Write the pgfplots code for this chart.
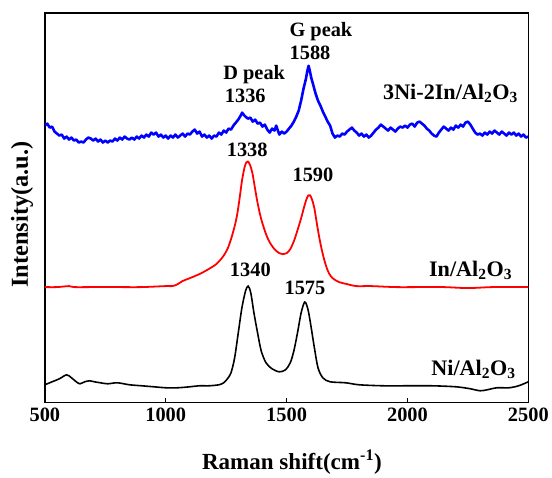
\documentclass[border=0pt]{standalone}
\usepackage{pgfplots}
\pgfplotsset{compat=1.18}
\usepackage{fontspec}
\setmainfont{Liberation Serif}
\usetikzlibrary{calc}

\newcommand{\lbl}{\bfseries\fontsize{20.5}{23}\selectfont}
\newcommand{\sample}{\bfseries\fontsize{22.3}{25}\selectfont}

\begin{document}
\begin{tikzpicture}
\begin{axis}[
    scale only axis,
    width=485bp, height=391bp,
    xmin=500, xmax=2500,
    ymin=70, ymax=461,
    xtick={500,1000,1500,2000,2500},
    ytick=\empty,
    xtick pos=bottom,
    tick align=inside,
    major tick length=5bp,
    axis line style={line width=1.5pt},
    every tick/.style={black, line width=1.2pt},
    /pgf/number format/assume math mode=true,
    /pgf/number format/1000 sep={},
    tick label style={font=\bfseries\fontsize{20.5}{23}\selectfont},
    xticklabel style={yshift=-2bp},
    xlabel={Raman shift(cm\textsuperscript{-1})},
    xlabel style={font=\bfseries\fontsize{23.2}{26}\selectfont, at={(axis description cs:0.511,-0.172)}, anchor=base},
    ylabel={Intensity(a.u.)},
    ylabel style={font=\bfseries\fontsize{24.5}{27}\selectfont, at={(axis description cs:-0.047,0.483)}, anchor=center},
    clip=true,
]

% Ni/Al2O3
\addplot[black, line width=1.6pt, smooth] coordinates {
(500,88) (510,89) (530,91) (560,94) (590,98) (610,95) (630,91) (645,89)
(665,91) (685,92) (705,91) (730,90) (760,89) (800,90) (850,88) (900,87)
(950,86) (1000,85) (1050,85) (1100,86) (1140,87) (1180,87) (1220,88)
(1240,90) (1255,94) (1270,100) (1285,115) (1300,140) (1315,165) (1330,182)
(1341,187) (1352,180) (1365,160) (1380,140) (1395,122) (1415,110) (1440,104)
(1470,101) (1495,103) (1515,110) (1530,122) (1545,140) (1560,160) (1575,171)
(1588,164) (1600,148) (1615,125) (1630,105) (1650,95) (1680,91) (1745,90)
(1800,88) (1900,87) (2000,87) (2100,87) (2200,86) (2260,84) (2300,82)
(2330,83) (2370,85) (2420,85) (2460,87) (2500,91)
};

% In/Al2O3
\addplot[red, line width=1.8pt, smooth] coordinates {
(500,186) (550,186) (600,187) (620,186) (700,186) (800,186) (900,186)
(1000,187) (1028,187) (1050,189) (1069,192) (1100,195) (1139,199) (1170,203)
(1209,209) (1235,216) (1255,224) (1270,234) (1285,247) (1295,258) (1305,274)
(1315,292) (1325,305) (1333,311) (1340,312) (1348,309) (1358,301) (1368,287)
(1378,273) (1390,259) (1400,250) (1415,239) (1430,231) (1450,224) (1470,220)
(1485,219) (1500,220) (1515,224) (1530,232) (1545,243) (1560,255) (1572,266)
(1582,274) (1590,278) (1597,278) (1605,274) (1615,265) (1625,250) (1635,236)
(1645,224) (1655,214) (1665,206) (1675,200) (1690,195) (1717,191) (1750,189)
(1787,187) (1850,187) (1950,186) (2050,186) (2150,186) (2250,185) (2350,186)
(2450,186) (2500,186)
};

% 3Ni-2In/Al2O3
\addplot[blue, line width=2.6pt, line join=round] coordinates {
(500,348) (510,350) (520,346) (530,347) (540,342) (550,340) (560,338) (570,339)
(580,335) (590,337) (600,334) (610,336) (620,333) (630,334) (640,331) (650,332)
(660,331) (670,334) (680,336) (690,335) (700,333) (710,335) (720,332) (730,334)
(740,331) (750,333) (760,331) (770,333) (780,332) (790,335) (800,333) (810,336)
(820,334) (830,337) (840,335) (850,334) (860,336) (870,334) (880,337) (890,335)
(900,338) (910,336) (920,339) (930,337) (940,341) (950,339) (960,341) (970,337)
(980,339) (990,336) (1000,338) (1010,335) (1020,338) (1030,336) (1040,339) (1050,336)
(1060,338) (1070,340) (1080,337) (1090,340) (1100,339) (1110,342) (1120,344) (1130,340)
(1140,342) (1150,337) (1160,339) (1170,336) (1180,338) (1190,335) (1200,338) (1210,337)
(1220,341) (1230,339) (1240,343) (1250,341) (1260,345) (1270,344) (1280,348) (1290,351)
(1300,354) (1310,358) (1316,361) (1322,359) (1330,357) (1340,355) (1350,356) (1360,352)
(1370,354) (1380,350) (1390,351) (1400,347) (1410,349) (1420,344) (1430,341) (1440,345)
(1450,343) (1457,348) (1464,343) (1470,339) (1480,342) (1490,340) (1500,342) (1510,345)
(1520,348) (1530,352) (1540,357) (1550,363) (1560,373) (1570,385) (1580,395) (1586,403)
(1591,408) (1596,403) (1602,396) (1610,389) (1620,380) (1630,373) (1640,368) (1650,362)
(1660,357) (1670,352) (1680,348) (1690,340) (1700,336) (1710,338) (1720,337) (1730,340)
(1740,339) (1750,342) (1760,344) (1770,346) (1780,343) (1790,341) (1800,338) (1810,340)
(1820,337) (1830,339) (1840,336) (1850,338) (1860,341) (1870,344) (1880,346) (1890,349)
(1900,347) (1910,345) (1920,343) (1930,346) (1940,344) (1950,342) (1960,345) (1970,347)
(1980,346) (1990,348) (2000,346) (2010,349) (2020,350) (2030,347) (2040,351) (2050,352)
(2060,350) (2070,348) (2080,345) (2090,343) (2100,340) (2110,338) (2120,337) (2130,341)
(2140,344) (2150,347) (2160,345) (2170,343) (2180,346) (2190,344) (2200,348) (2210,346)
(2220,349) (2230,347) (2240,351) (2250,352) (2260,349) (2270,345) (2280,341) (2290,339)
(2300,340) (2310,338) (2320,341) (2330,339) (2340,342) (2350,340) (2360,343) (2370,341)
(2380,339) (2390,342) (2400,340) (2410,338) (2420,341) (2430,339) (2440,341) (2450,338)
(2460,340) (2470,337) (2480,339) (2490,336) (2500,337)
};

% labels
\node[anchor=base, font=\lbl] at (axis cs:1642,437) {G peak};
\node[anchor=base, font=\lbl] at (axis cs:1597,414) {1588};
\node[anchor=base, font=\lbl] at (axis cs:1366,394) {D peak};
\node[anchor=base, font=\lbl] at (axis cs:1329,371) {1336};
\node[anchor=base, font=\lbl] at (axis cs:1337,317) {1338};
\node[anchor=base, font=\lbl] at (axis cs:1609,292) {1590};
\node[anchor=base, font=\lbl] at (axis cs:1350,197) {1340};
\node[anchor=base, font=\lbl] at (axis cs:1576,179) {1575};
\node[anchor=base, font=\sample] at (axis cs:2178,374) {3Ni-2In/Al\textsubscript{2}O\textsubscript{3}};
\node[anchor=base, font=\sample] at (axis cs:2261,197) {In/Al\textsubscript{2}O\textsubscript{3}};
\node[anchor=base, font=\sample] at (axis cs:2273,97) {Ni/Al\textsubscript{2}O\textsubscript{3}};
\end{axis}
\path ($(current axis.south west)+(-45bp,-70bp)$) rectangle ($(current axis.north east)+(22bp,13bp)$);
\end{tikzpicture}
\end{document}
